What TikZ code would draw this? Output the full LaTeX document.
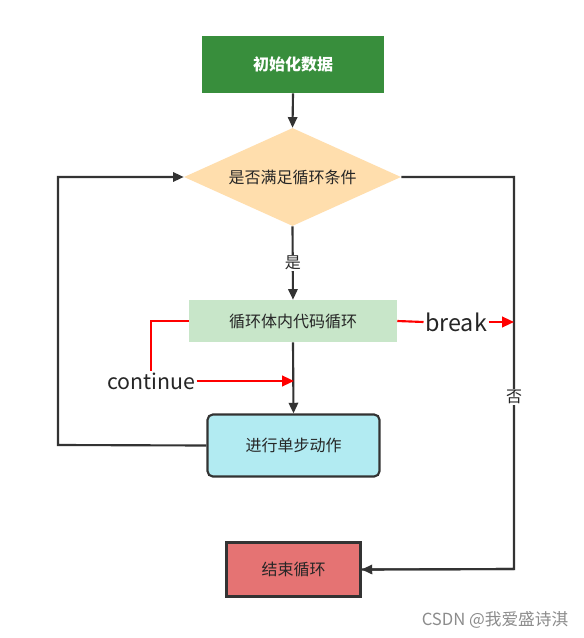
\documentclass[tikz,border=0pt]{standalone}
\usepackage{fontspec}
\setmainfont{Noto Sans CJK SC}
\usetikzlibrary{arrows.meta,shapes.geometric}
\definecolor{dk}{HTML}{333333}
\definecolor{gbox}{HTML}{388E3C}
\definecolor{dia}{HTML}{FFDEAD}
\definecolor{lg}{HTML}{C8E6C9}
\definecolor{cy}{HTML}{B2EBF2}
\definecolor{rd}{HTML}{E57373}
\tikzset{
  conn/.style={draw=dk,line width=1.6pt,-{Triangle[length=8pt,width=7pt]}},
  plain/.style={draw=dk,line width=1.6pt},
  redl/.style={draw=red,line width=1.6pt},
  reda/.style={draw=red,line width=1.6pt,-{Triangle[length=9pt,width=8pt]}},
  lbl/.style={font=\fontsize{12pt}{14pt}\selectfont,text=black!85},
  big/.style={text=black!85,inner sep=1pt},
}
\begin{document}
\begin{tikzpicture}[x=0.75pt,y=-0.75pt]
\useasboundingbox[fill=white] (0,0) rectangle (584,638);
% nodes
\node[fill=gbox,minimum width=182*0.75pt,minimum height=57*0.75pt,text=white,font=\bfseries\fontsize{12pt}{14pt}\selectfont] (init) at (293,64.5) {初始化数据};
\node[diamond,fill=dia,aspect=2.2,minimum width=217*0.75pt,minimum height=98*0.75pt,inner sep=0pt,lbl] (cond) at (292.5,177) {是否满足循环条件};
\node[fill=lg,minimum width=208*0.75pt,minimum height=42*0.75pt,lbl] (body) at (293,321) {循环体内代码循环};
\node[draw=dk,line width=1.6pt,rounded corners=4pt,fill=cy,minimum width=172*0.75pt,minimum height=62*0.75pt,lbl] (step) at (293.5,445.5) {进行单步动作};
\node[draw=dk,line width=1.6pt,fill=rd,minimum width=134*0.75pt,minimum height=54*0.75pt,lbl] (end) at (293.5,569.5) {结束循环};
\node[big,font=\fontsize{17.5pt}{20pt}\selectfont] (brk) at (456,322) {break};
\node[big,font=\fontsize{16pt}{19pt}\selectfont] (cont) at (151,381) {continue};
\node[text=black!45,font=\fontsize{12.5pt}{14pt}\selectfont] (wm) at (495,620) {CSDN @我爱盛诗淇};
% coordinates
\coordinate (lt) at (58,177);
\coordinate (lb) at (58,445);
\coordinate (rt) at (514,177);
\coordinate (rb) at (514,569);
\coordinate (bx) at (514,322);
\coordinate (ca) at (294,381);
\coordinate (cl) at (151,321);
% connectors
\draw[conn] (init.south) -- (cond.north);
\draw[conn] (cond.south) -- node[fill=white,lbl,inner sep=1pt] {是} (body.north);
\draw[conn] (body.south) -- (step.north);
\draw[conn] (step.west) -- (lb) -- (lt) -- (cond.west);
\draw[plain] (cond.east) -- (rt) -- (rb) -- (end.east);
\draw[conn] (rb) -- (end.east);
\node[fill=white,lbl,inner sep=1pt] at (514,397) {否};
% red
\draw[redl] (body.east) -- (brk.west);
\draw[reda] (brk.east) -- (bx);
\draw[redl] (body.west) -- (cl) -- (cl|-cont.north);
\draw[reda] (cont.east) -- (ca);
\end{tikzpicture}
\end{document}
